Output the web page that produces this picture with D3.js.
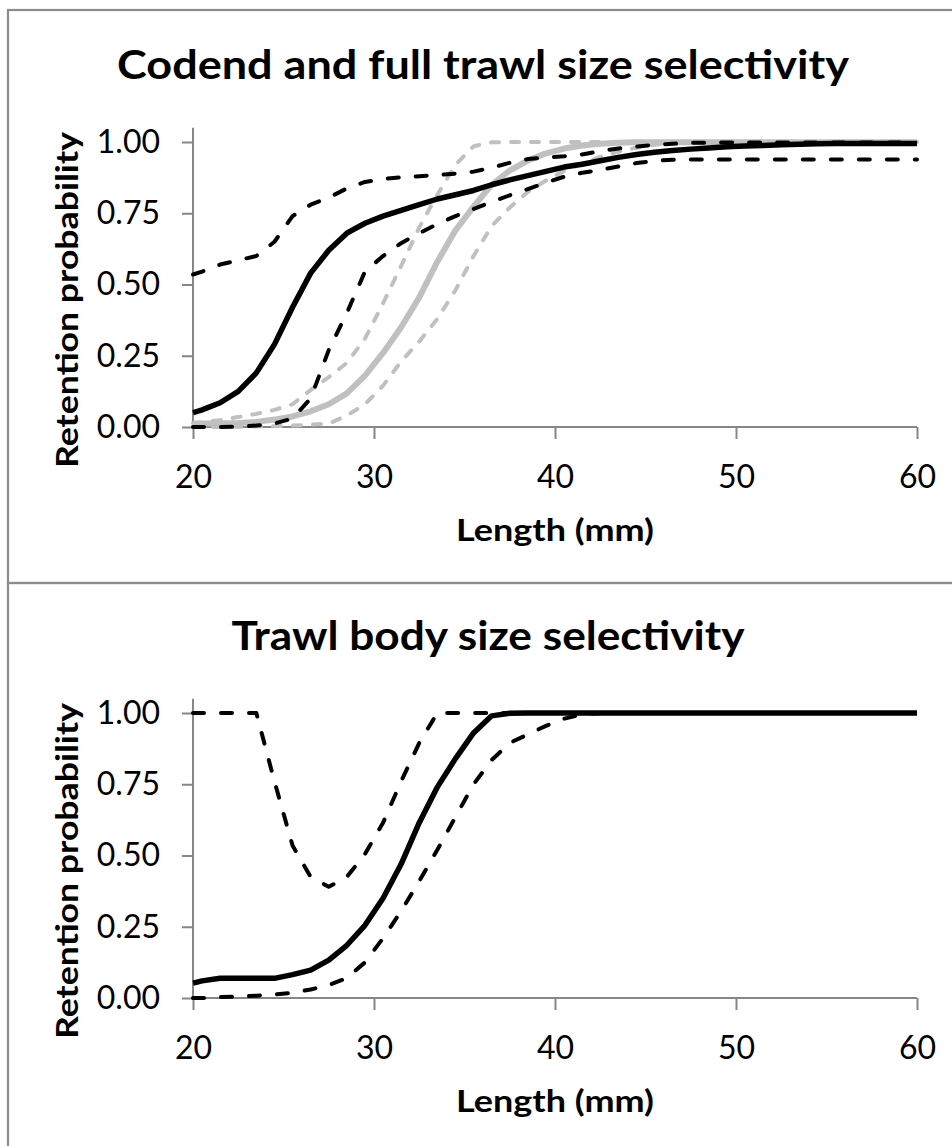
<!DOCTYPE html>
<html>
<head>
<meta charset="utf-8">
<script src="https://cdn.jsdelivr.net/npm/d3@7"></script>
<style>
  body { margin: 0; background: #fff; }
  text { font-family: "Lato", "Carlito", "Calibri", sans-serif; fill: #000; }
</style>
</head>
<body>
<div id="chart"></div>
<script>
// Length classes (mm)
const lengths = [20, 20.5, 21.5, 22.5, 23.5, 24.5, 25.5, 26.5, 27.5, 28.5, 29.5, 30.5, 31.5, 32.5,
  33.5, 34.5, 35.5, 36.5, 37.5, 38.5, 39.5, 40.5, 41.5, 42.5, 43.5, 44.5, 45.5, 46.5, 47.5, 48.5,
  49.5, 50.5, 51.5, 52.5, 53.5, 54.5, 55.5, 56.5, 57.5, 58.5, 59.5, 60];

// Top panel: full trawl (black) and codend (grey), with confidence bands
const fullTrawl = [0.05, 0.06, 0.085, 0.125, 0.19, 0.29, 0.42, 0.54, 0.62, 0.68, 0.715, 0.74, 0.76, 0.78,
  0.80, 0.815, 0.83, 0.85, 0.867, 0.882, 0.897, 0.912, 0.922, 0.934, 0.946, 0.956, 0.964, 0.97, 0.975, 0.979,
  0.983, 0.986, 0.988, 0.99, 0.992, 0.994, 0.995, 0.995, 0.995, 0.995, 0.995, 0.995];
const fullTrawlUpper = [0.535, 0.545, 0.57, 0.585, 0.60, 0.65, 0.74, 0.78, 0.805, 0.837, 0.86, 0.87, 0.876, 0.88,
  0.884, 0.889, 0.896, 0.91, 0.927, 0.94, 0.946, 0.95, 0.956, 0.968, 0.977, 0.984, 0.99, 0.994, 0.997, 0.998,
  0.998, 0.998, 0.998, 0.998, 0.998, 0.998, 0.998, 0.998, 0.998, 0.998, 0.998, 0.998];
const fullTrawlLower = [0, 0, 0, 0.002, 0.005, 0.012, 0.03, 0.10, 0.27, 0.40, 0.545, 0.60, 0.645, 0.68,
  0.712, 0.74, 0.765, 0.79, 0.813, 0.835, 0.857, 0.878, 0.892, 0.902, 0.914, 0.926, 0.934, 0.938, 0.939, 0.939,
  0.939, 0.939, 0.939, 0.939, 0.939, 0.939, 0.939, 0.939, 0.939, 0.939, 0.939, 0.939];
const codend = [0.012, 0.012, 0.013, 0.014, 0.018, 0.026, 0.037, 0.055, 0.08, 0.118, 0.18, 0.26, 0.35, 0.455,
  0.58, 0.69, 0.773, 0.85, 0.90, 0.935, 0.96, 0.977, 0.988, 0.994, 0.997, 0.999, 0.999, 0.999, 0.999, 0.999,
  0.999, 0.999, 0.999, 0.999, 0.999, 0.999, 0.999, 0.999, 0.999, 0.999, 0.999, 0.999];
const codendUpper = [0.013, 0.016, 0.024, 0.035, 0.046, 0.06, 0.08, 0.13, 0.175, 0.225, 0.31, 0.434, 0.565, 0.70,
  0.815, 0.92, 0.985, 0.999, 1, 1, 1, 1, 1, 1, 1, 1, 1, 1, 1, 1,
  1, 1, 1, 1, 1, 1, 1, 1, 1, 1, 1, 1];
const codendLower = [0, 0, 0, 0.001, 0.002, 0.003, 0.005, 0.008, 0.012, 0.04, 0.08, 0.145, 0.23, 0.30,
  0.38, 0.48, 0.60, 0.705, 0.77, 0.825, 0.865, 0.898, 0.925, 0.948, 0.966, 0.98, 0.99, 0.996, 1, 1,
  1, 1, 1, 1, 1, 1, 1, 1, 1, 1, 1, 1];

// Bottom panel: trawl body
const body = [0.052, 0.06, 0.069, 0.069, 0.069, 0.069, 0.082, 0.098, 0.133, 0.185, 0.255, 0.35, 0.47, 0.615,
  0.74, 0.84, 0.93, 0.99, 0.999, 1, 1, 1, 1, 1, 1, 1, 1, 1, 1, 1,
  1, 1, 1, 1, 1, 1, 1, 1, 1, 1, 1, 1];
const bodyUpper = [1, 1, 1, 1, 1, 0.76, 0.535, 0.425, 0.39, 0.425, 0.505, 0.615, 0.76, 0.895,
  1, 1, 1, 1, 1, 1, 1, 1, 1, 1, 1, 1, 1, 1, 1, 1,
  1, 1, 1, 1, 1, 1, 1, 1, 1, 1, 1, 1];
const bodyLower = [0, 0, 0.003, 0.005, 0.008, 0.012, 0.018, 0.03, 0.045, 0.07, 0.125, 0.21, 0.305, 0.41,
  0.52, 0.635, 0.75, 0.835, 0.895, 0.925, 0.955, 0.98, 0.995, 1, 1, 1, 1, 1, 1, 1,
  1, 1, 1, 1, 1, 1, 1, 1, 1, 1, 1, 1];

const xTicks = [20, 30, 40, 50, 60];
const yTicks = [0, 0.25, 0.5, 0.75, 1];

const W = 952, H = 1146;
const svg = d3.select("#chart").append("svg")
    .attr("width", W)
    .attr("height", H);

const axisColor = "#868686";
const grey = "#c0c0c0";

// line styles
const styles = {
  blackSolid: { stroke: "#000", width: 5.5, dash: null },
  blackDash: { stroke: "#000", width: 4, dash: "11,17" },
  greySolid: { stroke: grey, width: 6, dash: null },
  greyDash: { stroke: grey, width: 4, dash: "8,12" }
};

const x = d3.scaleLinear().domain([20, 60]).range([193, 917]);

function drawPanel(offset, borderY, title, titleX, titleLen, series) {
  // panel frame (right and bottom edges fall outside the picture)
  svg.append("rect")
      .attr("x", 8).attr("y", borderY)
      .attr("width", 1000).attr("height", 573)
      .attr("fill", "none")
      .attr("stroke", "#8c8c8c")
      .attr("stroke-width", 2.2);

  const g = svg.append("g").attr("transform", `translate(0,${offset})`);
  const y = d3.scaleLinear().domain([0, 1.05]).range([427, 127.75]);

  // title
  g.append("text")
      .attr("x", titleX).attr("y", 79)
      .attr("text-anchor", "middle")
      .attr("font-size", 41)
      .attr("font-weight", "bold")
      .attr("textLength", titleLen)
      .attr("lengthAdjust", "spacingAndGlyphs")
      .text(title);

  // axes
  const yAxis = g.append("g")
      .attr("transform", `translate(${x(20)},0)`)
      .call(d3.axisLeft(y).tickValues(yTicks).tickSize(11).tickFormat(d3.format(".2f")));
  yAxis.select(".domain").remove();
  yAxis.selectAll(".tick line").attr("stroke", axisColor).attr("stroke-width", 2);
  yAxis.selectAll(".tick text")
      .attr("x", -33)
      .attr("font-size", 32)
      .attr("font-family", "Lato, Carlito, Calibri, sans-serif");

  const xAxis = g.append("g")
      .attr("transform", `translate(0,${y(0)})`)
      .call(d3.axisBottom(x).tickValues(xTicks).tickSize(12).tickFormat(d3.format("d")));
  xAxis.select(".domain").remove();
  xAxis.selectAll(".tick line").attr("stroke", axisColor).attr("stroke-width", 2);
  xAxis.selectAll(".tick text")
      .attr("y", 61)
      .attr("dy", 0)
      .attr("font-size", 32)
      .attr("font-family", "Lato, Carlito, Calibri, sans-serif");

  // axis lines
  g.append("line")
      .attr("x1", x(20)).attr("x2", x(20))
      .attr("y1", y(1.05)).attr("y2", y(0))
      .attr("stroke", axisColor).attr("stroke-width", 2);
  g.append("line")
      .attr("x1", x(20)).attr("x2", x(60))
      .attr("y1", y(0)).attr("y2", y(0))
      .attr("stroke", axisColor).attr("stroke-width", 2);

  // axis titles
  g.append("text")
      .attr("x", (x(20) + x(60)) / 2).attr("y", 541)
      .attr("text-anchor", "middle")
      .attr("font-size", 30)
      .attr("font-weight", "bold")
      .attr("textLength", 198)
      .attr("lengthAdjust", "spacingAndGlyphs")
      .text("Length (mm)");
  g.append("text")
      .attr("transform", "translate(78,300) rotate(-90)")
      .attr("text-anchor", "middle")
      .attr("font-size", 31)
      .attr("font-weight", "bold")
      .attr("textLength", 336)
      .attr("lengthAdjust", "spacingAndGlyphs")
      .text("Retention probability");

  // curves
  const line = d3.line()
      .x((d, i) => x(lengths[i]))
      .y(d => y(d));

  series.forEach(s => {
    const st = styles[s.style];
    g.append("path")
        .datum(s.values)
        .attr("d", line)
        .attr("fill", "none")
        .attr("stroke", st.stroke)
        .attr("stroke-width", st.width)
        .attr("stroke-linejoin", "round")
        .attr("stroke-linecap", st.dash ? "round" : "butt")
        .attr("stroke-dasharray", st.dash);
  });
}

drawPanel(0, 10, "Codend and full trawl size selectivity", 483, 732, [
  { values: codendUpper, style: "greyDash" },
  { values: codendLower, style: "greyDash" },
  { values: codend, style: "greySolid" },
  { values: fullTrawlUpper, style: "blackDash" },
  { values: fullTrawlLower, style: "blackDash" },
  { values: fullTrawl, style: "blackSolid" }
]);

drawPanel(571, 583, "Trawl body size selectivity", 488, 513, [
  { values: bodyUpper, style: "blackDash" },
  { values: bodyLower, style: "blackDash" },
  { values: body, style: "blackSolid" }
]);
</script>
</body>
</html>
